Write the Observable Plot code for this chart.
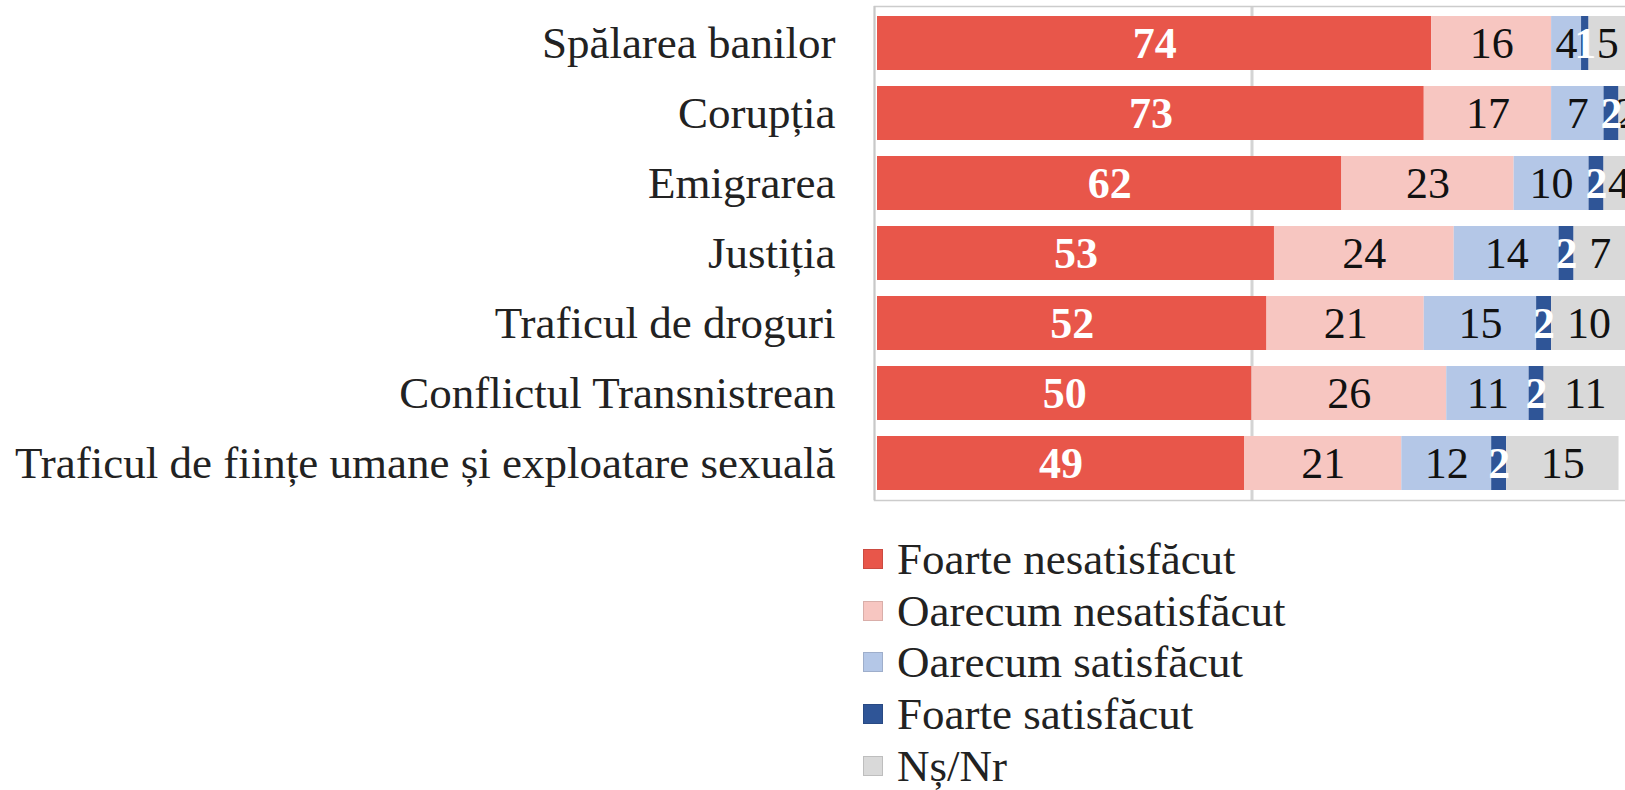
<!DOCTYPE html>
<html>
<head>
<meta charset="utf-8">
<script src="https://cdn.jsdelivr.net/npm/d3@7"></script>
<script src="https://cdn.jsdelivr.net/npm/@observablehq/plot@0.6"></script>
<style>
  html, body { margin: 0; padding: 0; background: #fff; overflow: hidden; }
  body { width: 1625px; height: 790px; font-family: "Liberation Serif", serif; }
  #legend { position: absolute; left: 863px; top: 533px; }
  .item { display: flex; align-items: center; height: 51.7px; font-size: 45px; color: #222; white-space: nowrap; }
  .sw { width: 20px; height: 20px; margin-right: 14px; box-sizing: border-box; border: 1px solid rgba(0,0,0,0.12); }
</style>
</head>
<body>
<div id="chart"></div>
<div id="legend"></div>
<script>
const categories = [
  "Spălarea banilor",
  "Corupția",
  "Emigrarea",
  "Justiția",
  "Traficul de droguri",
  "Conflictul Transnistrean",
  "Traficul de ființe umane și exploatare sexuală"
];
const seriesNames = ["Foarte nesatisfăcut", "Oarecum nesatisfăcut", "Oarecum satisfăcut", "Foarte satisfăcut", "Nș/Nr"];
const seriesColors = ["#E8564A", "#F7C6C1", "#B4C7E7", "#2F5597", "#D9D9D9"];
const foarteNesatisfacut = [74, 73, 62, 53, 52, 50, 49];
const oarecumNesatisfacut = [16, 17, 23, 24, 21, 26, 21];
const oarecumSatisfacut = [4, 7, 10, 14, 15, 11, 12];
const foarteSatisfacut = [1, 2, 2, 2, 2, 2, 2];
const nsNr = [5, 2, 4, 7, 10, 11, 15];
const whiteLabelSeries = ["Foarte nesatisfăcut", "Foarte satisfăcut"];

const seriesValues = [foarteNesatisfacut, oarecumNesatisfacut, oarecumSatisfacut, foarteSatisfacut, nsNr];
const data = categories.flatMap((cat, i) =>
  seriesNames.map((s, j) => ({cat, series: s, value: seriesValues[j][i]}))
);

const chart = Plot.plot({
  width: 1625,
  height: 510,
  marginLeft: 877,
  marginRight: -1,
  marginTop: 6,
  marginBottom: 10,
  style: {fontFamily: "Liberation Serif, serif", color: "#222", background: "#fff", overflow: "visible"},
  x: {domain: [0, 100], axis: null},
  y: {domain: categories, paddingInner: 0.234, paddingOuter: 0.117, label: null},
  color: {domain: seriesNames, range: seriesColors},
  marks: [
    Plot.ruleX([50], {stroke: "#d4d4d4", strokeWidth: 3}),
    Plot.frame({stroke: "#cccccc", strokeWidth: 1.5, insetLeft: -3}),
    Plot.ruleX([0], {stroke: "#c8c8c8", strokeWidth: 2, dx: -3}),
    Plot.barX(data, Plot.stackX({x: "value", y: "cat", fill: "series"})),
    Plot.text(data, Plot.stackX({
      x: "value", y: "cat", z: "series",
      text: d => whiteLabelSeries.includes(d.series) ? null : String(d.value),
      fill: "#111", fontSize: 44
    })),
    Plot.text(data, Plot.stackX({
      x: "value", y: "cat", z: "series",
      text: d => whiteLabelSeries.includes(d.series) ? String(d.value) : null,
      fill: "white", fontSize: 44, fontWeight: "bold"
    })),
    Plot.axisY({tickSize: 0, tickPadding: 42, fontSize: 45, label: null})
  ]
});
document.getElementById("chart").appendChild(chart);

const legend = document.getElementById("legend");
seriesNames.forEach((s, j) => {
  const item = document.createElement("div");
  item.className = "item";
  const sw = document.createElement("span");
  sw.className = "sw";
  sw.style.background = seriesColors[j];
  const t = document.createElement("span");
  t.textContent = s;
  item.appendChild(sw);
  item.appendChild(t);
  legend.appendChild(item);
});
</script>
</body>
</html>
